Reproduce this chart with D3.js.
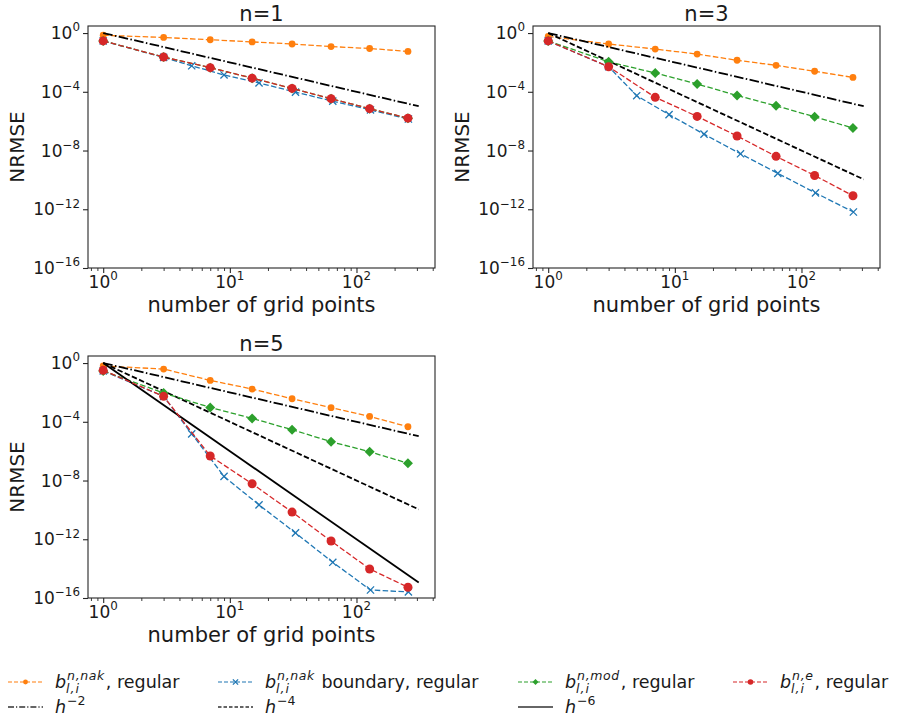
<!DOCTYPE html>
<html>
<head>
<meta charset="utf-8">
<script src="https://cdn.jsdelivr.net/npm/d3@7"></script>
<style>
  body { margin: 0; background: #fff; }
  svg { display: block; font-family: "DejaVu Sans", sans-serif; }
</style>
</head>
<body>
<svg id="chart" width="898" height="720"></svg>
<script>
// Grid sizes per level: regular grids and grids with boundary points
const gridRegular = [1, 3, 7, 15, 31, 63, 127, 255];
const gridBoundary = [1, 3, 5, 9, 17, 33, 65, 129, 257];
// Reference convergence lines h^-k, drawn from x=1 to x=310
const refRange = [1, 310];
const refOrders = [2, 4, 6];

const panelTitles = ["n=1", "n=3", "n=5"];
const yTickExps = [0, -4, -8, -12, -16];
const xTickExps = [0, 1, 2];

// NRMSE, degree n=1
const nak_n1      = [7.1e-1, 5.0e-1, 3.5e-1, 2.5e-1, 1.8e-1, 1.2e-1, 8.9e-2, 5.6e-2];
const nakBound_n1 = [2.9e-1, 2.2e-2, 5.9e-3, 1.4e-3, 4.0e-4, 9.5e-5, 2.3e-5, 5.8e-6, 1.4e-6];
const mod_n1      = [2.9e-1, 2.3e-2, 4.4e-3, 8.5e-4, 1.7e-4, 3.4e-5, 7.1e-6, 1.6e-6];
const ext_n1      = [2.9e-1, 2.3e-2, 4.4e-3, 8.5e-4, 1.7e-4, 3.4e-5, 7.1e-6, 1.6e-6];

// NRMSE, degree n=3
const nak_n3      = [5.9e-1, 1.8e-1, 8.1e-2, 3.7e-2, 1.4e-2, 6.3e-3, 2.5e-3, 9.5e-4];
const nakBound_n3 = [2.9e-1, 5.1e-3, 5.4e-5, 2.8e-6, 1.3e-7, 6.0e-9, 2.8e-10, 1.3e-11, 6.5e-13];
const mod_n3      = [2.9e-1, 1.1e-2, 1.9e-3, 3.4e-4, 5.6e-5, 1.1e-5, 2.0e-6, 3.4e-7];
const ext_n3      = [2.9e-1, 5.1e-3, 4.2e-5, 2.1e-6, 9.8e-8, 4.0e-9, 2.0e-10, 8.3e-12];

// NRMSE, degree n=5
const nak_n5      = [6.3e-1, 3.9e-1, 6.6e-2, 1.7e-2, 3.7e-3, 9.1e-4, 2.3e-4, 4.6e-5];
const nakBound_n5 = [2.9e-1, 5.4e-3, 1.5e-5, 1.9e-8, 2.2e-10, 2.7e-12, 2.7e-14, 3.5e-16, 2.6e-16];
const mod_n5      = [2.9e-1, 9.1e-3, 9.5e-4, 1.7e-4, 2.9e-5, 4.4e-6, 9.1e-7, 1.5e-7];
const ext_n5      = [3.2e-1, 5.4e-3, 4.7e-7, 6.0e-9, 7.1e-11, 7.6e-13, 9.5e-15, 5.4e-16];

const C = { orange: "#ff7f0e", blue: "#1f77b4", green: "#2ca02c", red: "#d62728", black: "#000" };
const DASH = "5.5,2.4";
const REF_DASH = { 2: "9.6,2.4,1.5,2.4", 4: "5.5,2.4", 6: null };

const panels = [
  { title: panelTitles[0], left: 88,  top: 26,  refs: [2],       nak: nak_n1, bnd: nakBound_n1, mod: mod_n1, ext: ext_n1 },
  { title: panelTitles[1], left: 533, top: 26,  refs: [2, 4],    nak: nak_n3, bnd: nakBound_n3, mod: mod_n3, ext: ext_n3 },
  { title: panelTitles[2], left: 88,  top: 356, refs: [2, 4, 6], nak: nak_n5, bnd: nakBound_n5, mod: mod_n5, ext: ext_n5 }
];
const PW = 347, PH = 242;

const svg = d3.select("#chart");

function marker(g, type, cx, cy, s, color) {
  if (type === "circle") {
    g.append("circle").attr("cx", cx).attr("cy", cy).attr("r", s).attr("fill", color);
  } else if (type === "diamond") {
    g.append("path").attr("d", `M${cx},${cy - s}L${cx + s},${cy}L${cx},${cy + s}L${cx - s},${cy}Z`).attr("fill", color);
  } else if (type === "x") {
    g.append("path").attr("d", `M${cx - s},${cy - s}L${cx + s},${cy + s}M${cx - s},${cy + s}L${cx + s},${cy - s}`)
      .attr("stroke", color).attr("stroke-width", 1.3).attr("fill", "none");
  }
}

// Power-of-ten label with a raised exponent
function powLabel(g, x, y, exp, anchor, size) {
  const t = g.append("text").attr("x", x).attr("y", y).attr("text-anchor", anchor)
    .attr("font-size", size).attr("fill", "#1a1a1a");
  t.append("tspan").text("10");
  t.append("tspan").attr("dy", -0.45 * size).attr("font-size", size * 0.7)
    .text(exp < 0 ? "\u2212" + (-exp) : String(exp));
  return t;
}

panels.forEach(p => {
  const x = d3.scaleLog().domain([Math.pow(10, -0.12), Math.pow(10, 2.62)]).range([p.left, p.left + PW]);
  const y = d3.scaleLog().domain([1e-16, Math.pow(10, 0.48)]).range([p.top + PH, p.top]);
  const g = svg.append("g");

  const clipId = "clip" + p.left + "_" + p.top;
  svg.append("clipPath").attr("id", clipId).append("rect")
    .attr("x", p.left).attr("y", p.top).attr("width", PW).attr("height", PH);
  const plot = g.append("g").attr("clip-path", `url(#${clipId})`);

  const line = d3.line().x(d => x(d[0])).y(d => y(d[1]));

  function series(xs, ys, color, type, size) {
    const pts = xs.map((v, i) => [v, ys[i]]);
    plot.append("path").attr("d", line(pts)).attr("fill", "none").attr("stroke", color)
      .attr("stroke-width", 1.3).attr("stroke-dasharray", DASH);
    const mg = plot.append("g");
    pts.forEach(d => marker(mg, type, x(d[0]), y(d[1]), size, color));
  }
  function ref(k) {
    const pts = refRange.map(v => [v, Math.pow(v, -k)]);
    const path = plot.append("path").attr("d", line(pts)).attr("fill", "none")
      .attr("stroke", C.black).attr("stroke-width", 1.8);
    if (REF_DASH[k]) path.attr("stroke-dasharray", REF_DASH[k]);
  }

  // plotting order: nak, h^-2, nak boundary, h^-4, mod, h^-6, e
  series(gridRegular, p.nak, C.orange, "circle", 3.4);
  if (p.refs.includes(2)) ref(2);
  series(gridBoundary, p.bnd, C.blue, "x", 3.6);
  if (p.refs.includes(4)) ref(4);
  series(gridRegular, p.mod, C.green, "diamond", 5);
  if (p.refs.includes(6)) ref(6);
  series(gridRegular, p.ext, C.red, "circle", 4.5);

  // frame
  g.append("rect").attr("x", p.left).attr("y", p.top).attr("width", PW).attr("height", PH)
    .attr("fill", "none").attr("stroke", "#262626").attr("stroke-width", 1.1);

  // x axis: major and minor ticks
  const [x0, x1] = x.domain();
  const minor = [];
  for (let e = -1; e <= 2; e++) for (let m = 2; m <= 9; m++) {
    const v = m * Math.pow(10, e);
    if (v >= x0 && v <= x1) minor.push(v);
  }
  const majors = xTickExps.map(e => Math.pow(10, e));
  const axB = p.top + PH;
  g.append("g").attr("transform", `translate(0,${axB})`)
    .call(d3.axisBottom(x).tickValues(minor).tickSize(3).tickFormat(""))
    .call(a => a.select(".domain").remove())
    .call(a => a.selectAll("line").attr("stroke", "#262626").attr("stroke-width", 0.9));
  g.append("g").attr("transform", `translate(0,${axB})`)
    .call(d3.axisBottom(x).tickValues(majors).tickSize(5).tickFormat(""))
    .call(a => a.select(".domain").remove())
    .call(a => a.selectAll("line").attr("stroke", "#262626").attr("stroke-width", 1.1));
  xTickExps.forEach(e => powLabel(g, x(Math.pow(10, e)), axB + 20, e, "middle", 17));

  // y axis
  const yVals = yTickExps.map(e => Math.pow(10, e));
  g.append("g").attr("transform", `translate(${p.left},0)`)
    .call(d3.axisLeft(y).tickValues(yVals).tickSize(5).tickFormat(""))
    .call(a => a.select(".domain").remove())
    .call(a => a.selectAll("line").attr("stroke", "#262626").attr("stroke-width", 1.1));
  yTickExps.forEach(e => powLabel(g, p.left - 8, y(Math.pow(10, e)) + 6, e, "end", 17));

  // titles and labels
  const cx = p.left + PW / 2;
  g.append("text").attr("x", cx).attr("y", p.top - 5).attr("text-anchor", "middle")
    .attr("font-size", 21).attr("fill", "#1a1a1a").text(p.title);
  g.append("text").attr("x", cx).attr("y", axB + 44).attr("text-anchor", "middle")
    .attr("font-size", 21).attr("fill", "#1a1a1a").text("number of grid points");
  g.append("text").attr("transform", `translate(${p.left - 64},${p.top + PH / 2}) rotate(-90)`)
    .attr("text-anchor", "middle").attr("font-size", 20).attr("fill", "#1a1a1a").text("NRMSE");
});

// Legend
const legendEntries = [
  { col: 0, row: 0, color: C.orange, type: "circle", ms: 2.4, dash: "4,2", sym: "b", sup: "n,nak", sub: "l,i", rest: ", regular" },
  { col: 1, row: 0, color: C.blue, type: "x", ms: 2.6, dash: "4,2", sym: "b", sup: "n,nak", sub: "l,i", rest: " boundary, regular" },
  { col: 2, row: 0, color: C.green, type: "diamond", ms: 3, dash: "4,2", sym: "b", sup: "n,mod", sub: "l,i", rest: ", regular" },
  { col: 3, row: 0, color: C.red, type: "circle", ms: 2.8, dash: "4,2", sym: "b", sup: "n,e", sub: "l,i", rest: ", regular" },
  { col: 0, row: 1, color: "#333", type: null, dash: "6,2,1.2,2", sym: "h", sup: "\u22122", sub: null, rest: "" },
  { col: 1, row: 1, color: "#333", type: null, dash: "3.5,2", sym: "h", sup: "\u22124", sub: null, rest: "" },
  { col: 2, row: 1, color: "#333", type: null, dash: null, sym: "h", sup: "\u22126", sub: null, rest: "" }
];
const colX = [8, 218, 518, 733];
const rowY = [688, 713];
const leg = svg.append("g");

function measure(str, size, italic, spacing) {
  const t = leg.append("text").attr("font-size", size).attr("font-style", italic ? "italic" : "normal")
    .attr("letter-spacing", spacing || 0).text(str);
  const w = t.node().getComputedTextLength();
  t.remove();
  return w;
}

legendEntries.forEach(e => {
  const lx = colX[e.col], by = rowY[e.row], ly = by - 6;
  const ln = leg.append("line").attr("x1", lx).attr("x2", lx + 35).attr("y1", ly).attr("y2", ly)
    .attr("stroke", e.color).attr("stroke-width", e.type ? 1.2 : 1.6);
  if (e.dash) ln.attr("stroke-dasharray", e.dash);
  if (e.type) marker(leg, e.type, lx + 17.5, ly, e.ms, e.color);

  const tx = lx + 47;
  const isB = e.sym === "b";
  const sx = tx + measure(e.sym, 17.5, true) + 1;
  const supW = measure(e.sup, 12.5, isB, isB ? 0.6 : 0);
  const subW = e.sub ? measure(e.sub, 12.5, true, 1) : 0;
  const w = Math.max(supW, subW);

  // one text element: symbol, superscript, subscript stacked below it, then the rest
  const t = leg.append("text").attr("x", tx).attr("y", by).attr("font-size", 17.5)
    .attr("fill", "#1a1a1a").style("white-space", "pre");
  t.append("tspan").attr("font-style", "italic").text(e.sym);
  t.append("tspan").attr("x", sx).attr("y", by - 8).attr("font-size", 12.5)
    .attr("font-style", isB ? "italic" : "normal").attr("letter-spacing", isB ? 0.6 : 0).text(e.sup);
  if (e.sub) {
    t.append("tspan").attr("x", sx - 1).attr("y", by + 5).attr("font-size", 12.5)
      .attr("font-style", "italic").attr("letter-spacing", 1).text(e.sub);
  }
  if (e.rest) {
    t.append("tspan").attr("x", sx + w + 1).attr("y", by).attr("letter-spacing", 0).text(e.rest);
  }
});
</script>
</body>
</html>
